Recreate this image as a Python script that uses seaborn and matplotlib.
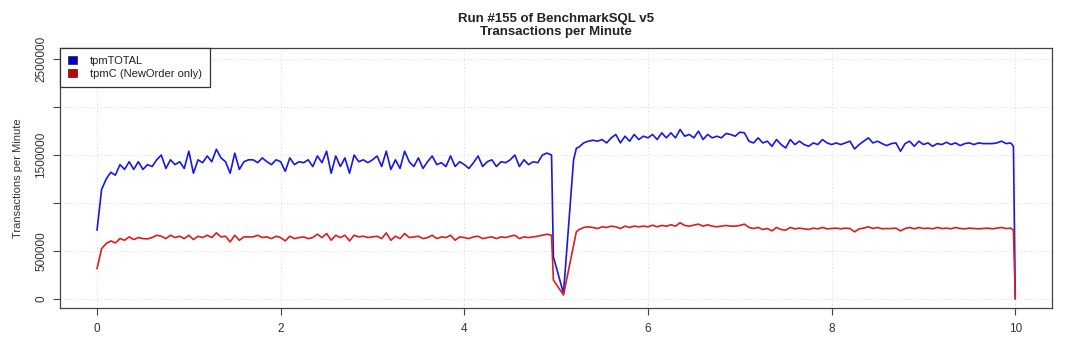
import numpy as np
import pandas as pd
import matplotlib
matplotlib.use("Agg")
import matplotlib.pyplot as plt
import seaborn as sns
from matplotlib.patches import Patch

# ---------------- data ----------------
minutes = np.concatenate([
    np.round(np.arange(0, 4.951, 0.05), 2),
    [4.97, 5.08, 5.19, 5.22],
    np.round(np.arange(5.25, 9.951, 0.05), 2),
    [9.98, 10.0],
])

tpm_total = [
    # 0.00 - 1.65
    717000, 1140000, 1250000, 1320000, 1290000, 1400000, 1350000, 1430000, 1350000, 1430000,
    1350000, 1400000, 1380000, 1450000, 1500000, 1360000, 1450000, 1400000, 1430000, 1360000,
    1540000, 1310000, 1450000, 1420000, 1490000, 1430000, 1560000, 1470000, 1430000, 1310000,
    1520000, 1350000, 1430000, 1450000,
    # 1.70 - 3.35
    1450000, 1420000, 1470000, 1430000, 1400000, 1450000, 1430000, 1330000, 1470000, 1400000,
    1430000, 1420000, 1450000, 1380000, 1490000, 1420000, 1540000, 1310000, 1490000, 1380000,
    1470000, 1310000, 1500000, 1430000, 1450000, 1420000, 1450000, 1490000, 1380000, 1540000,
    1350000, 1450000, 1360000, 1540000,
    # 3.40 - 4.95
    1430000, 1380000, 1470000, 1360000, 1430000, 1490000, 1400000, 1420000, 1380000, 1490000,
    1380000, 1430000, 1400000, 1360000, 1420000, 1490000, 1380000, 1430000, 1450000, 1380000,
    1430000, 1420000, 1450000, 1500000, 1380000, 1450000, 1400000, 1430000, 1420000, 1500000,
    1520000, 1500000,
    # dip 4.97 - 5.22
    440000, 59000, 1450000, 1570000,
    # 5.25 - 6.70
    1584000, 1626000, 1644000, 1654000, 1644000, 1661000, 1626000, 1679000, 1714000, 1626000,
    1696000, 1644000, 1714000, 1661000, 1696000, 1679000, 1714000, 1661000, 1731000, 1679000,
    1731000, 1679000, 1766000, 1696000, 1714000, 1679000, 1749000, 1661000, 1714000, 1679000,
    # 6.75 - 8.40
    1696000, 1679000, 1724000, 1714000, 1696000, 1738000, 1731000, 1644000, 1626000, 1679000,
    1626000, 1644000, 1591000, 1661000, 1609000, 1574000, 1661000, 1609000, 1644000, 1609000,
    1591000, 1626000, 1609000, 1661000, 1626000, 1609000, 1626000, 1609000, 1626000, 1644000,
    1563000, 1609000, 1644000, 1679000,
    # 8.45 - 9.95
    1626000, 1644000, 1619000, 1598000, 1619000, 1626000, 1539000, 1619000, 1644000, 1591000,
    1644000, 1609000, 1626000, 1591000, 1619000, 1609000, 1633000, 1609000, 1626000, 1598000,
    1619000, 1626000, 1609000, 1626000, 1619000, 1619000, 1619000, 1626000, 1644000, 1619000,
    1626000,
    # 9.98 - 10.0
    1591000, 0,
]

tpm_c = [
    # 0.00 - 1.65
    315000, 525000, 577000, 605000, 584000, 629000, 612000, 647000, 619000, 640000,
    629000, 626000, 640000, 664000, 654000, 629000, 664000, 640000, 654000, 629000,
    664000, 619000, 654000, 640000, 664000, 640000, 689000, 647000, 654000, 594000,
    664000, 612000, 647000, 647000,
    # 1.70 - 3.35
    647000, 664000, 640000, 647000, 629000, 654000, 640000, 605000, 654000, 629000,
    640000, 647000, 629000, 640000, 675000, 640000, 682000, 612000, 664000, 640000,
    664000, 605000, 664000, 647000, 654000, 640000, 647000, 654000, 629000, 689000,
    612000, 654000, 629000, 682000,
    # 3.40 - 4.95
    640000, 647000, 654000, 629000, 640000, 664000, 629000, 647000, 640000, 664000,
    612000, 647000, 640000, 629000, 647000, 654000, 629000, 640000, 647000, 629000,
    647000, 640000, 654000, 664000, 629000, 647000, 640000, 647000, 654000, 664000,
    675000, 664000,
    # dip 4.97 - 5.22
    198000, 42000, 562000, 700000,
    # 5.25 - 6.70
    724000, 745000, 752000, 745000, 734000, 752000, 745000, 759000, 752000, 734000,
    759000, 745000, 759000, 752000, 759000, 752000, 769000, 752000, 766000, 759000,
    773000, 759000, 794000, 766000, 759000, 769000, 780000, 759000, 773000, 759000,
    # 6.75 - 8.40
    752000, 759000, 766000, 759000, 759000, 766000, 780000, 745000, 734000, 745000,
    724000, 734000, 710000, 745000, 724000, 717000, 745000, 731000, 738000, 731000,
    724000, 738000, 731000, 745000, 731000, 734000, 738000, 731000, 738000, 734000,
    699000, 731000, 738000, 752000,
    # 8.45 - 9.95
    734000, 745000, 731000, 734000, 734000, 738000, 710000, 734000, 745000, 731000,
    745000, 734000, 738000, 731000, 745000, 734000, 738000, 731000, 745000, 734000,
    731000, 738000, 734000, 731000, 734000, 738000, 731000, 738000, 745000, 734000,
    738000,
    # 9.98 - 10.0
    717000, 5000,
]

series_names = ["tpmTOTAL", "tpmC (NewOrder only)"]
series_colors = ["#1818e0", "#dd1c1c"]
legend_colors = ["#0000c8", "#c80000"]
title_text = "Run #155 of BenchmarkSQL v5\nTransactions per Minute"
ylabel_text = "Transactions per Minute"
x_ticks = [0, 2, 4, 6, 8, 10]
y_ticks = [0, 500000, 1000000, 1500000, 2000000, 2500000]
y_tick_labels = ["0", "500000", "", "1500000", "", "2500000"]

df = pd.DataFrame({
    "minutes": np.concatenate([minutes, minutes]),
    "tpm": np.concatenate([tpm_total, tpm_c]),
    "series": [series_names[0]] * len(minutes) + [series_names[1]] * len(minutes),
})

# ---------------- plot ----------------
sns.set_theme(style="white")
plt.rcParams["font.family"] = ["Liberation Sans", "DejaVu Sans"]

fig = plt.figure(figsize=(10.8, 3.4), dpi=100)
ax = fig.add_axes([60 / 1080, 32 / 340, (1052 - 60) / 1080, (308 - 48) / 340])

for name, col in zip(series_names, series_colors):
    sns.lineplot(data=df[df["series"] == name], x="minutes", y="tpm",
                 color=col, linewidth=1.2, estimator=None, sort=False,
                 ax=ax, legend=False, zorder=3)

ax.set_xlim(-0.403, 10.40)
ax.set_ylim(-94000, 2615000)

ax.set_xticks(x_ticks)
ax.set_xticklabels([str(t) for t in x_ticks])
ax.set_yticks(y_ticks)
ax.set_yticklabels(y_tick_labels, rotation=90, va="center")

for gx in x_ticks:
    ax.axvline(gx, color="#dedede", linestyle=(0, (1, 2)), linewidth=0.8, zorder=1)
for gy in y_ticks:
    ax.axhline(gy, color="#dedede", linestyle=(0, (1, 2)), linewidth=0.8, zorder=1)

ax.tick_params(axis="both", which="major", direction="out", length=5, width=0.8,
               color="#444444", labelsize=8.5, labelcolor="#333333",
               bottom=True, left=True)
ax.tick_params(axis="x", pad=6)
ax.tick_params(axis="y", pad=4)

for sp in ax.spines.values():
    sp.set_color("#444444")
    sp.set_linewidth(0.9)

ax.set_xlabel("")
ax.set_ylabel(ylabel_text, fontsize=8, color="#333333", labelpad=9)
ax.set_title(title_text, fontsize=9.5, fontweight="bold", color="#222222",
             pad=9, linespacing=1.2)

handles = [Patch(facecolor=c, edgecolor="#222222", linewidth=0.5) for c in legend_colors]
leg = ax.legend(handles, series_names, loc="upper left", bbox_to_anchor=(0, 1),
                borderaxespad=0, frameon=True, fancybox=False, fontsize=8,
                handlelength=0.8, handleheight=0.8, handletextpad=1.2,
                borderpad=0.7, labelspacing=0.25)
leg.get_frame().set_edgecolor("#333333")
leg.get_frame().set_linewidth(0.9)
leg.get_frame().set_facecolor("white")
leg.get_frame().set_alpha(1)
for t in leg.get_texts():
    t.set_color("#222222")

fig.savefig("out.png", dpi=100, facecolor="white")
